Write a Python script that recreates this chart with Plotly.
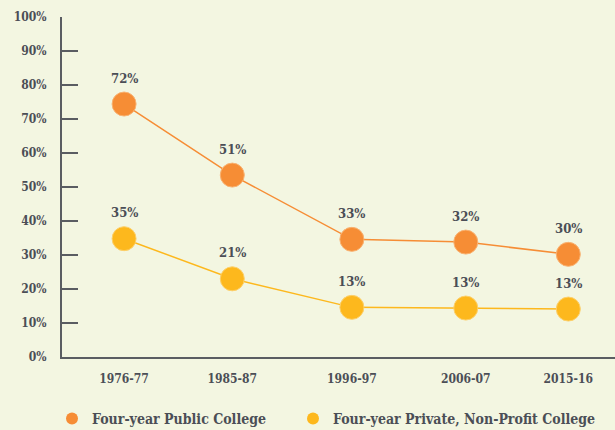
import plotly.graph_objects as go

categories = ["1976-77", "1985-87", "1996-97", "2006-07", "2015-16"]
year_pos = [1976.5, 1986.0, 1996.5, 2006.5, 2015.5]

public_values = [74.4, 53.5, 34.6, 33.8, 30.2]
public_labels = ["72%", "51%", "33%", "32%", "30%"]
private_values = [34.8, 23.0, 14.6, 14.4, 14.1]
private_labels = ["35%", "21%", "13%", "13%", "13%"]

series_names = ["Four-year Public College", "Four-year Private, Non-Profit College"]

y_ticks = list(range(0, 101, 10))
y_ticktext = [f"{v}%" for v in y_ticks]

ORANGE = "#F68D35"
YELLOW = "#FDB81D"
TEXT = "#4B4E56"
AXIS = "#5A5D62"
BG = "#F3F6E1"
FONT = "DejaVu Serif Condensed"

fig = go.Figure()
for vals, color, edge in [(public_values, ORANGE, "#F9B271"), (private_values, YELLOW, "#FDD06A")]:
    fig.add_trace(go.Scatter(
        x=year_pos, y=vals, mode="lines+markers", showlegend=False,
        line=dict(color=color, width=1.5),
        marker=dict(color=color, size=24, line=dict(color=edge, width=1)),
    ))
legend_ids = ["legend", "legend2"]
for name, color, lg in zip(series_names, [ORANGE, YELLOW], legend_ids):
    fig.add_trace(go.Scatter(
        x=[None], y=[None], mode="markers", name=name, legend=lg,
        marker=dict(color=color, size=17),
    ))

annotations = []
for ys, labs in [(public_values, public_labels), (private_values, private_labels)]:
    for x, y, t in zip(year_pos, ys, labs):
        annotations.append(dict(x=x, y=y, text=t, showarrow=False, yshift=26,
                                font=dict(family=FONT, size=13, color=TEXT, weight="bold")))

legend_style = dict(orientation="h", xanchor="left", yanchor="top", y=-0.135,
                    xref="container", yref="paper",
                    font=dict(family=FONT, size=14, color=TEXT, weight="bold"),
                    itemsizing="constant", bgcolor="rgba(0,0,0,0)", itemwidth=30)

fig.update_layout(
    width=615, height=430,
    paper_bgcolor=BG, plot_bgcolor=BG,
    margin=dict(l=62, r=0, t=17, b=73, autoexpand=False),
    font=dict(family=FONT, color=TEXT, size=13),
    showlegend=True,
    legend=dict(x=52 / 615, **legend_style),
    legend2=dict(x=293 / 615, **legend_style),
    annotations=annotations,
)
fig.update_xaxes(
    range=[1971.05, 2019.6], tickvals=year_pos, ticktext=categories,
    showgrid=False, zeroline=False, showline=True, linecolor=AXIS, linewidth=2,
    ticks="", automargin=False, ticklabelstandoff=10,
    tickfont=dict(family=FONT, size=12, color=TEXT, weight="bold"),
)
fig.update_yaxes(
    range=[0, 100], tickvals=y_ticks, ticktext=y_ticktext,
    showgrid=False, zeroline=False, showline=True, linecolor=AXIS, linewidth=2,
    ticks="inside", ticklen=16, tickcolor=AXIS, tickwidth=1.5, automargin=False,
    tickfont=dict(family=FONT, size=12, color=TEXT, weight="bold"), ticklabelstandoff=11,
)

fig.write_html("out.html", config={"displayModeBar": False},
               post_script="document.body.style.margin='0';document.body.style.overflow='hidden';")
